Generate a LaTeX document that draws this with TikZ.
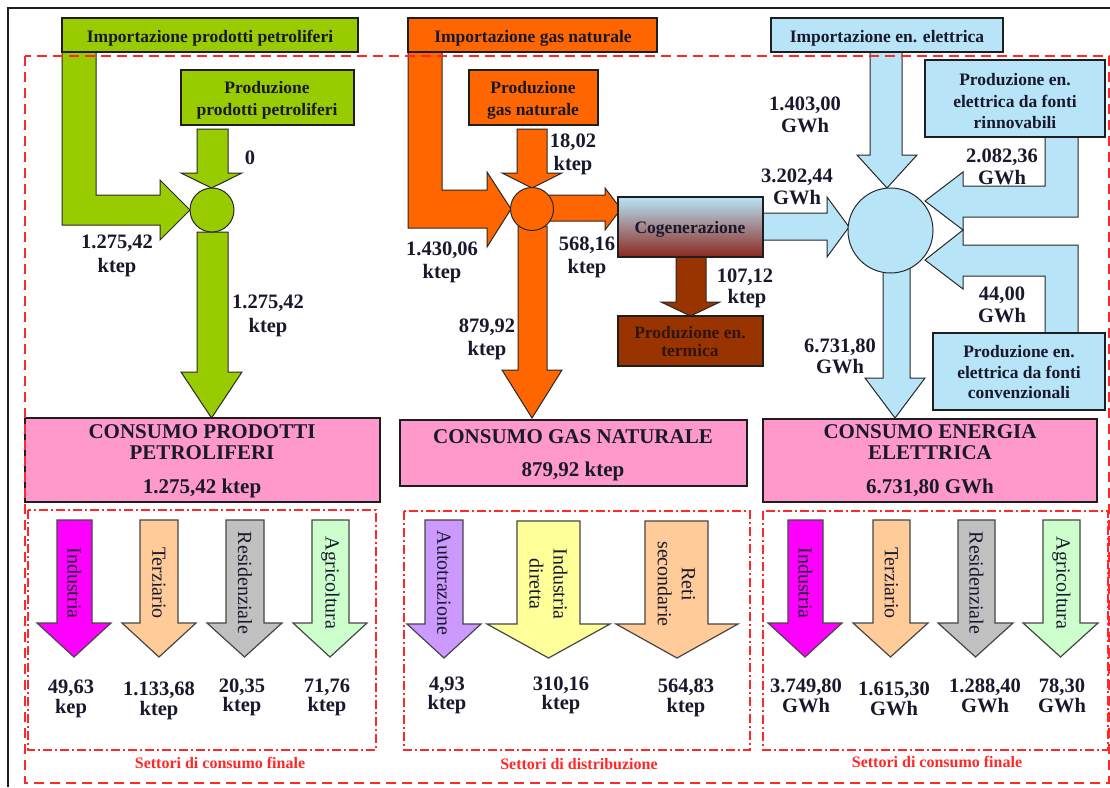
\documentclass[tikz,border=0pt]{standalone}
\usepackage{fontspec}
\setmainfont{Liberation Serif}
\usetikzlibrary{fit}
\definecolor{cgreen}{RGB}{153,204,0}
\definecolor{corange}{RGB}{255,102,0}
\definecolor{cblue}{RGB}{184,228,248}
\definecolor{cpink}{RGB}{255,153,204}
\definecolor{cbrown}{RGB}{153,51,0}
\definecolor{cogbot}{RGB}{140,40,30}
\definecolor{cmag}{RGB}{255,0,255}
\definecolor{ctan}{RGB}{255,204,153}
\definecolor{cgray}{RGB}{192,192,192}
\definecolor{clgreen}{RGB}{204,255,204}
\definecolor{clav}{RGB}{204,153,255}
\definecolor{cyel}{RGB}{255,255,153}
\definecolor{cred}{RGB}{255,40,40}
\definecolor{txt}{RGB}{25,25,45}
\definecolor{ttxt}{RGB}{50,20,10}
\definecolor{frame}{RGB}{30,30,30}
\definecolor{aline}{RGB}{40,40,40}
\definecolor{secline}{RGB}{70,70,70}
\newcommand\dnarr[8]{% #1 style, #2 shaft left, #3 shaft right, #4 top, #5 head base, #6 head left, #7 head right, #8 tip
  \filldraw[#1] (#2,#4) -- (#3,#4) -- (#3,#5) -- (#7,#5) -- ({(#6+#7)/2},#8) -- (#6,#5) -- (#2,#5) -- cycle;}
\begin{document}
\begin{tikzpicture}[x=1pt,y=-1pt,
  box/.style={draw=frame, line width=1.3pt, inner sep=0pt},
  arr/.style={draw=aline, line width=1pt, line join=miter},
  secarr/.style={draw=secline, line width=1.2pt, line join=miter},
  lbl/.style={font=\fontsize{20.5}{22}\selectfont\bfseries, text=txt, inner sep=0pt, anchor=base},
  btxt/.style={font=\fontsize{17.5}{20}\selectfont\bfseries, text=txt, inner sep=0pt, anchor=base},
  ttl/.style={font=\fontsize{21}{22}\selectfont\bfseries, text=txt, inner sep=0pt, anchor=base},
  sec/.style={font=\fontsize{20}{24}\selectfont, text=txt, inner sep=0pt, rotate=-90, align=center},
  capt/.style={font=\fontsize{16}{18}\selectfont\bfseries, text=cred, inner sep=0pt, anchor=base},
  reddash/.style={draw=cred, line width=1.5pt, dash pattern=on 10pt off 6pt},
  reddashdot/.style={draw=cred, line width=1.3pt, dash pattern=on 9pt off 3pt on 2pt off 3pt}
]
\useasboundingbox (0,0) rectangle (1110,787);
\fill[white] (0,0) rectangle (1110,787);

% ---------- flow labels (under the shapes) ----------
\node[lbl] (l1a) at (117,248) {1.275,42};
\node[lbl] (l1b) at (117,272) {ktep};
\node[lbl] (l0) at (250,164) {0};
\node[lbl] (l2a) at (268,308) {1.275,42};
\node[lbl] (l2b) at (268,332) {ktep};
\node[lbl] (l3a) at (573,147) {18,02};
\node[lbl] (l3b) at (573,170) {ktep};
\node[lbl] (l4a) at (442,255) {1.430,06};
\node[lbl] (l4b) at (442,278) {ktep};
\node[lbl] (l5a) at (587,250) {568,16};
\node[lbl] (l5b) at (587,273) {ktep};
\node[lbl] (l6a) at (487,332) {879,92};
\node[lbl] (l6b) at (487,355) {ktep};
\node[lbl] (l7a) at (745,282) {107,12};
\node[lbl] (l7b) at (747,303) {ktep};
\node[lbl] (e1a) at (805,110) {1.403,00};
\node[lbl] (e1b) at (805,132) {GWh};
\node[lbl] (e2a) at (797,182) {3.202,44};
\node[lbl] (e2b) at (797,204) {GWh};
\node[lbl] (e3a) at (1002,162) {2.082,36};
\node[lbl] (e3b) at (1002,184) {GWh};
\node[lbl] (e4a) at (1002,300) {44,00};
\node[lbl] (e4b) at (1002,322) {GWh};
\node[lbl] (e5a) at (840,352) {6.731,80};
\node[lbl] (e5b) at (840,373) {GWh};

% ---------- petroleum (green) ----------
\filldraw[arr, fill=cgreen] (62,52) -- (96,52) -- (96,195) -- (160,195) -- (160,180) -- (190,210) -- (160,240) -- (160,225) -- (62,225) -- cycle;
\dnarr{arr, fill=cgreen}{197}{228}{129}{173}{181}{242}{188}
\dnarr{arr, fill=cgreen}{197}{228}{232}{372}{181}{242}{418}
\node[circle, draw=aline, line width=1pt, fill=cgreen, minimum size=44pt, inner sep=0pt] (cP) at (212,210) {};

% ---------- gas (orange) ----------
\filldraw[arr, fill=corange] (408,52) -- (442,52) -- (442,190) -- (487,190) -- (487,172) -- (511,209) -- (487,247) -- (487,228) -- (408,228) -- cycle;
\dnarr{arr, fill=corange}{517}{547}{129}{173}{502}{562}{188}
\filldraw[arr, fill=corange] (545,195) -- (605,195) -- (605,188) -- (621,209) -- (605,230) -- (605,221) -- (545,221) -- cycle;
\dnarr{arr, fill=corange}{518}{547}{226}{370}{502}{562}{418}
\node[circle, draw=aline, line width=1pt, fill=corange, minimum size=43pt, inner sep=0pt] (cG) at (532,209) {};
\dnarr{arr, fill=cbrown}{676}{706}{257}{302}{661}{720}{316}

% ---------- electricity (blue) ----------
\dnarr{arr, fill=cblue}{870}{902}{52}{155}{857}{917}{188}
\filldraw[arr, fill=cblue] (763,213) -- (827,213) -- (827,197) -- (849,227) -- (827,257) -- (827,240) -- (763,240) -- cycle;
\filldraw[arr, fill=cblue] (1045,137) -- (1078,137) -- (1078,217) -- (963,217) -- (963,230) -- (925,201) -- (963,172) -- (963,186) -- (1045,186) -- cycle;
\filldraw[arr, fill=cblue] (1045,333) -- (1078,333) -- (1078,245) -- (963,245) -- (963,230) -- (925,260) -- (963,289) -- (963,276) -- (1045,276) -- cycle;
\dnarr{arr, fill=cblue}{883}{910}{265}{378}{865}{925}{418}
\node[circle, draw=aline, line width=1pt, fill=cblue, minimum size=85pt, inner sep=0pt] (cE) at (890.5,230.5) {};

% ---------- boxes ----------
\node[box, fill=cgreen, fit={(62,18)(358,52)}] (impP) {};
\node[box, fill=cgreen, fit={(181,70)(354,125)}] (prodP) {};
\node[box, fill=corange, fit={(408,18)(657,52)}] (impG) {};
\node[box, fill=corange, fit={(469,70)(598,125)}] (prodG) {};
\node[box, fill=cblue, fit={(771,18)(1003,52)}] (impE) {};
\node[box, fill=cblue, fit={(925,60)(1105,137)}] (renE) {};
\node[box, fill=cblue, fit={(933,333)(1105,410)}] (convE) {};
\node[box, top color=cblue, bottom color=cogbot, fit={(618,197)(763,257)}] (cogen) {};
\node[box, fill=cbrown, fit={(618,316)(763,366)}] (term) {};

\node[btxt] (impPt) at (210,42) {Importazione prodotti petroliferi};
\node[btxt] (prodPt1) at (267,93) {Produzione};
\node[btxt] (prodPt2) at (267,115) {prodotti petroliferi};
\node[btxt] (impGt) at (533,42) {Importazione gas naturale};
\node[btxt] (prodGt1) at (533,93) {Produzione};
\node[btxt] (prodGt2) at (533,115) {gas naturale};
\node[btxt] (impEt) at (887,42) {Importazione en. elettrica};
\node[btxt] (renEt1) at (1015,85) {Produzione en.};
\node[btxt] (renEt2) at (1015,107) {elettrica da fonti};
\node[btxt] (renEt3) at (1015,128) {rinnovabili};
\node[btxt] (convEt1) at (1019,357) {Produzione en.};
\node[btxt] (convEt2) at (1019,378) {elettrica da fonti};
\node[btxt] (convEt3) at (1019,398) {convenzionali};
\node[btxt] (cogent) at (690,233) {Cogenerazione};
\node[btxt, text=ttxt] (termt1) at (690,338) {Produzione en.};
\node[btxt, text=ttxt] (termt2) at (690,356) {termica};

% ---------- consumption boxes ----------
\node[box, fill=cpink, fit={(25,418)(380,502)}] (pinkP) {};
\node[box, fill=cpink, fit={(400,420)(747,486)}] (pinkG) {};
\node[box, fill=cpink, fit={(763,419)(1097,502)}] (pinkE) {};
\node[ttl] (p1a) at (202,438) {CONSUMO PRODOTTI};
\node[ttl] (p1b) at (202,459) {PETROLIFERI};
\node[ttl] (p1c) at (202,493) {1.275,42 ktep};
\node[ttl] (p2a) at (573,443) {CONSUMO GAS NATURALE};
\node[ttl] (p2b) at (573,476) {879,92 ktep};
\node[ttl] (p3a) at (930,438) {CONSUMO ENERGIA};
\node[ttl] (p3b) at (930,459) {ELETTRICA};
\node[ttl] (p3c) at (930,493) {6.731,80 GWh};

% ---------- sector arrows ----------
\dnarr{secarr, fill=cmag}{57}{92}{520}{623}{37}{111}{657}
\dnarr{secarr, fill=ctan}{140}{178}{520}{623}{122}{196}{657}
\dnarr{secarr, fill=cgray}{226}{264}{520}{623}{207}{282}{657}
\dnarr{secarr, fill=clgreen}{312}{349}{520}{623}{293}{367}{657}
\dnarr{secarr, fill=clav}{425}{463}{520}{624}{407}{481}{658}
\dnarr{secarr, fill=cyel}{517}{580}{521}{624}{487}{610}{658}
\dnarr{secarr, fill=ctan}{645}{708}{521}{624}{616}{738}{658}
\dnarr{secarr, fill=cmag}{788}{823}{520}{623}{768}{842}{657}
\dnarr{secarr, fill=ctan}{873}{910}{520}{623}{853}{928}{657}
\dnarr{secarr, fill=cgray}{958}{995}{520}{623}{938}{1013}{657}
\dnarr{secarr, fill=clgreen}{1043}{1080}{520}{623}{1023}{1098}{657}

\node[sec] (s1) at (74.5,583) {Industria};
\node[sec] (s2) at (159,583) {Terziario};
\node[sec] (s3) at (245,583) {Residenziale};
\node[sec] (s4) at (330.5,583) {Agricoltura};
\node[sec] (s5) at (444,583) {Autotrazione};
\node[sec] (s6) at (548.5,584) {Industria\\diretta};
\node[sec] (s7) at (676.5,584) {Reti\\secondarie};
\node[sec] (s8) at (805.5,583) {Industria};
\node[sec] (s9) at (891.5,583) {Terziario};
\node[sec] (s10) at (976.5,583) {Residenziale};
\node[sec] (s11) at (1061.5,583) {Agricoltura};

\node[lbl] (v1a) at (71,693) {49,63};
\node[lbl] (v1b) at (71,713) {kep};
\node[lbl] (v2a) at (159,695) {1.133,68};
\node[lbl] (v2b) at (159,715) {ktep};
\node[lbl] (v3a) at (242,692) {20,35};
\node[lbl] (v3b) at (242,711) {ktep};
\node[lbl] (v4a) at (327,692) {71,76};
\node[lbl] (v4b) at (327,711) {ktep};
\node[lbl] (v5a) at (447,690) {4,93};
\node[lbl] (v5b) at (447,709) {ktep};
\node[lbl] (v6a) at (561,690) {310,16};
\node[lbl] (v6b) at (561,709) {ktep};
\node[lbl] (v7a) at (686,692) {564,83};
\node[lbl] (v7b) at (686,712) {ktep};
\node[lbl] (v8a) at (806,692) {3.749,80};
\node[lbl] (v8b) at (806,712) {GWh};
\node[lbl] (v9a) at (894,695) {1.615,30};
\node[lbl] (v9b) at (894,715) {GWh};
\node[lbl] (v10a) at (985,692) {1.288,40};
\node[lbl] (v10b) at (985,712) {GWh};
\node[lbl] (v11a) at (1062,692) {78,30};
\node[lbl] (v11b) at (1062,712) {GWh};

% ---------- red frames ----------
\draw[reddashdot] (28,510) rectangle (376,750);
\draw[reddashdot] (404,511) rectangle (750,750);
\draw[reddashdot] (763,511) rectangle (1108,750);
\node[capt] (c1) at (220,768) {Settori di consumo finale};
\node[capt] (c2) at (579,769) {Settori di distribuzione};
\node[capt] (c3) at (937,767) {Settori di consumo finale};
\draw[reddash] (25,56) rectangle (1109,783);

% ---------- black frame ----------
\draw[line width=1.6pt, frame] (8,787) -- (8,8) -- (1110,8);
\end{tikzpicture}
\end{document}
